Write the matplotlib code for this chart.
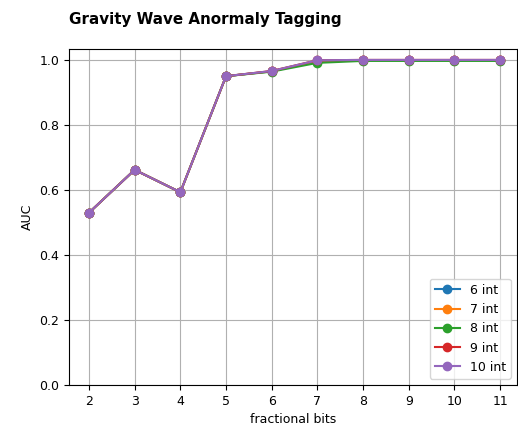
import numpy as np
import matplotlib.pyplot as plt

frac_bits = [2, 3, 4, 5, 6, 7, 8, 9, 10, 11]
auc_6 = [0.530, 0.662, 0.593, 0.950, 0.965, 0.997, 0.999, 0.999, 0.999, 0.999]
auc_7 = [0.530, 0.662, 0.593, 0.950, 0.965, 0.998, 0.999, 0.999, 0.999, 0.999]
auc_8 = [0.530, 0.662, 0.593, 0.950, 0.964, 0.991, 0.997, 0.997, 0.997, 0.997]
auc_9 = [0.530, 0.662, 0.593, 0.950, 0.966, 0.999, 1.000, 1.000, 1.000, 1.000]
auc_10 = [0.530, 0.662, 0.593, 0.950, 0.966, 0.999, 1.000, 1.000, 1.000, 1.000]
series = [auc_6, auc_7, auc_8, auc_9, auc_10]
labels = ['6 int', '7 int', '8 int', '9 int', '10 int']

plt.rcParams['font.size'] = 9

fig = plt.figure(figsize=(5.18, 4.25), dpi=100)
ax = fig.add_axes([0.133, 0.094, 0.865, 0.791])

for vals, lab in zip(series, labels):
    ax.plot(frac_bits, vals, marker='o', markersize=6, label=lab)

ax.set_xlim(1.56, 11.37)
ax.set_ylim(0, 1.034)
ax.set_xticks(frac_bits)
ax.grid(True)
ax.set_xlabel('fractional bits')
ax.set_ylabel('AUC')
ax.set_title('Gravity Wave Anormaly Tagging', loc='left', fontweight='bold',
             fontsize=10.9, pad=18)
ax.legend(loc='lower right')

fig.savefig('out.png', dpi=100)
